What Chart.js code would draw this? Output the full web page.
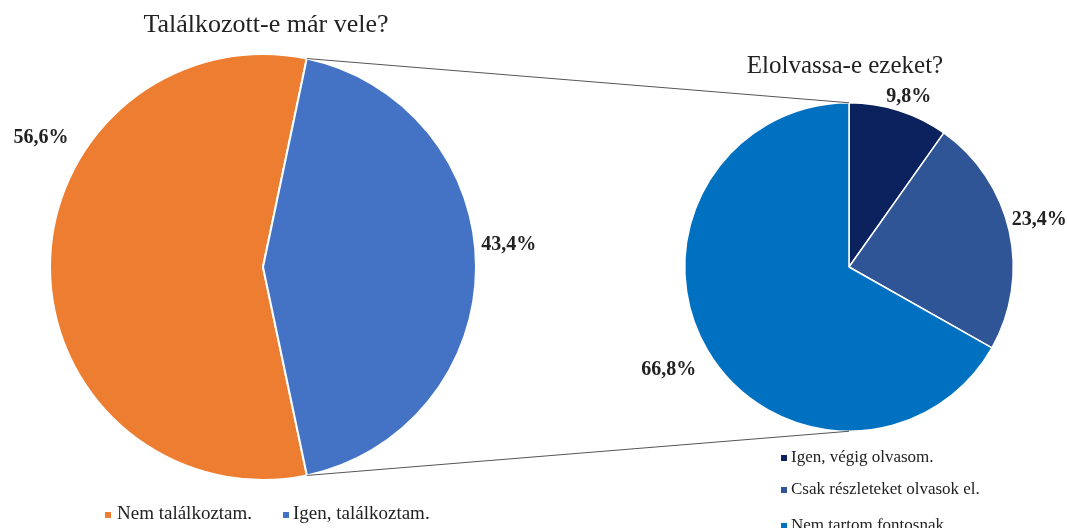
<!DOCTYPE html>
<html><head><meta charset="utf-8">
<script src="https://cdn.jsdelivr.net/npm/chart.js@4"></script>
<style>
html,body{margin:0;padding:0;background:#fff;overflow:hidden}
#wrap{position:relative;width:1067px;height:528px;font-family:"Liberation Serif","Times New Roman",serif;color:#222;overflow:hidden}
canvas{position:absolute;top:0}
.t{position:absolute;white-space:nowrap;line-height:1}
.sq{position:absolute;width:6px;height:6px}
</style></head><body>
<div id="wrap">
<canvas id="c1" width="580" height="528" style="left:0;width:580px;height:528px"></canvas>
<canvas id="c2" width="487" height="528" style="left:580px;width:487px;height:528px"></canvas>
<canvas id="ov" width="1067" height="528" style="left:0;width:1067px;height:528px;pointer-events:none"></canvas>
</div>
<script>
// ---- data ----
const title1 = "Találkozott-e már vele?";
const labels1 = ["Nem találkoztam.", "Igen, találkoztam."];
const values1 = [56.6, 43.4];
const colors1 = ["#ED7D31", "#4472C4"];

const title2 = "Elolvassa-e ezeket?";
const labels2 = ["Igen, végig olvasom.", "Csak részleteket olvasok el.", "Nem tartom fontosnak."];
const values2 = [9.8, 23.4, 66.8];
const colors2 = ["#0C225E", "#2F5597", "#0070C0"];

const fmt = v => v.toFixed(1).replace('.', ',') + '%';
const wrap = document.getElementById('wrap');

function addText(txt, x, baseline, size, opts = {}) {
  const d = document.createElement('div');
  d.className = 't';
  d.textContent = txt;
  d.style.fontSize = size + 'px';
  d.style.top = (baseline - 0.8375 * size) + 'px';
  if (opts.center) { d.style.left = x + 'px'; d.style.transform = 'translateX(-50%)'; }
  else d.style.left = x + 'px';
  wrap.appendChild(d);
}
function addSq(x, y, color) {
  const s = document.createElement('div');
  s.className = 'sq'; s.style.left = x + 'px'; s.style.top = y + 'px'; s.style.background = color;
  wrap.appendChild(s);
}

const outLabels = {
  id: 'outLabels',
  afterDatasetsDraw(chart, args, opts) {
    const ctx = chart.ctx;
    const meta = chart.getDatasetMeta(0);
    const vals = chart.data.datasets[0].data;
    ctx.save();
    ctx.font = 'bold 20px "Liberation Serif", "Times New Roman", serif';
    ctx.fillStyle = '#222';
    ctx.textAlign = 'center';
    ctx.textBaseline = 'middle';
    meta.data.forEach((arc, i) => {
      const o = opts.offsets[i];
      const r = arc.outerRadius;
      ctx.fillText(fmt(vals[i]), arc.x + o[0] * r, arc.y + o[1] * r);
    });
    ctx.restore();
  }
};

const chart1 = new Chart(document.getElementById('c1'), {
  type: 'pie',
  data: { labels: labels1, datasets: [{ data: values1, backgroundColor: colors1, borderColor: '#fff', borderWidth: 2 }] },
  options: {
    responsive: false, animation: false, rotation: 168.1,
    layout: { padding: { left: 49, right: 103, top: 53, bottom: 47 } },
    plugins: { legend: { display: false }, tooltip: { enabled: false },
      outLabels: { offsets: [[-1.042, -0.607], [1.154, -0.103]] } }
  },
  plugins: [outLabels]
});

const chart2 = new Chart(document.getElementById('c2'), {
  type: 'pie',
  data: { labels: labels2, datasets: [{ data: values2, backgroundColor: colors2, borderColor: '#fff', borderWidth: 1.5 }] },
  options: {
    responsive: false, animation: false, rotation: 0,
    layout: { padding: { left: 104, right: 53, top: 102, bottom: 96 } },
    plugins: { legend: { display: false }, tooltip: { enabled: false },
      outLabels: { offsets: [[0.364, -1.036], [1.158, -0.285], [-1.097, 0.627]] } }
  },
  plugins: [outLabels]
});

// connector lines
(function () {
  const ctx = document.getElementById('ov').getContext('2d');
  const a = chart1.getDatasetMeta(0).data[1];
  const b = chart2.getDatasetMeta(0).data[0];
  const ox2 = 580;
  const R = a.outerRadius;
  const p1 = [a.x + Math.cos(a.startAngle) * R, a.y + Math.sin(a.startAngle) * R];
  const p2 = [a.x + Math.cos(a.endAngle) * R, a.y + Math.sin(a.endAngle) * R];
  const q1 = [ox2 + b.x, b.y - b.outerRadius];
  const q2 = [ox2 + b.x, b.y + b.outerRadius];
  ctx.strokeStyle = '#555';
  ctx.lineWidth = 1;
  ctx.beginPath();
  ctx.moveTo(p1[0], p1[1]); ctx.lineTo(q1[0], q1[1]);
  ctx.moveTo(p2[0], p2[1]); ctx.lineTo(q2[0], q2[1]);
  ctx.stroke();
})();

// titles
addText(title1, 266, 33, 26, { center: true });
addText(title2, 845, 73, 25, { center: true });

// left legend
const leg1 = [[105, 117], [283, 293]];
labels1.forEach((l, i) => { addSq(leg1[i][0], 512, colors1[i]); addText(l, leg1[i][1], 519, 19); });
// right legend
const base2 = [462, 494, 530];
labels2.forEach((l, i) => { addSq(781, base2[i] - 7, colors2[i]); addText(l, 791, base2[i], 17); });
</script>
</body></html>
